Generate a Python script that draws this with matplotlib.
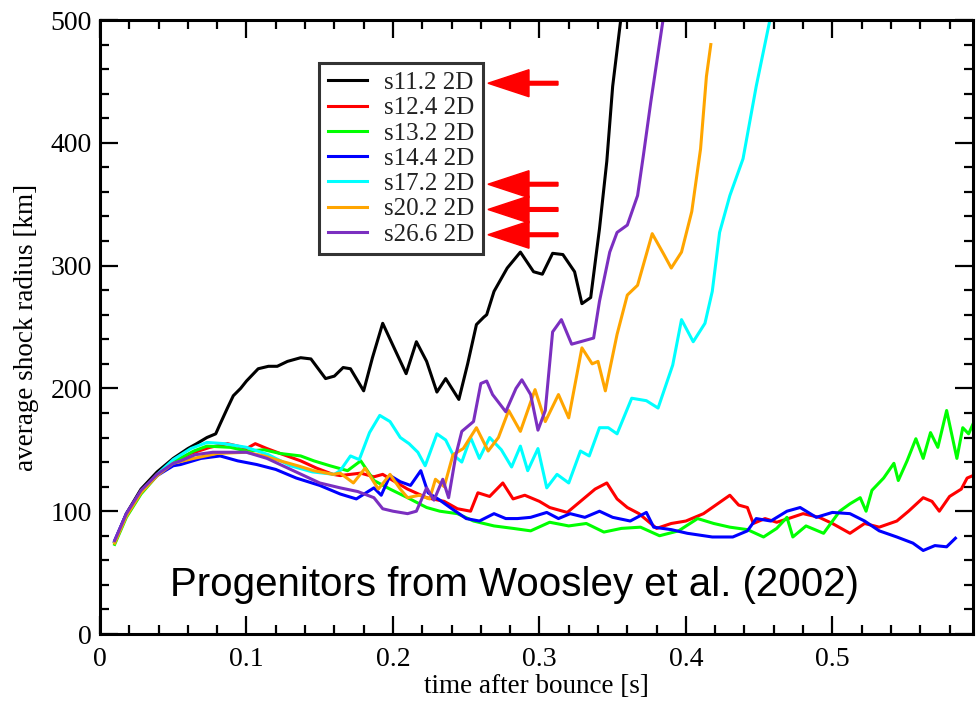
import numpy as np
import matplotlib
matplotlib.use('Agg')
import matplotlib.pyplot as plt
from matplotlib.ticker import MultipleLocator

# ---- data: time after bounce [s], average shock radius [km]
t_s112 = [0.010, 0.018, 0.028, 0.039, 0.050, 0.060, 0.066, 0.073, 0.079, 0.082, 0.087, 0.091,
          0.096, 0.100, 0.108, 0.115, 0.121, 0.128, 0.137, 0.144, 0.154, 0.160, 0.166, 0.171,
          0.180, 0.186, 0.193, 0.200, 0.209, 0.216, 0.223, 0.230, 0.236, 0.245, 0.251, 0.257,
          0.262, 0.264, 0.269, 0.278, 0.287, 0.296, 0.302, 0.309, 0.316, 0.324, 0.329, 0.335,
          0.341, 0.346, 0.350, 0.356]
r_s112 = [75, 98, 118, 132, 143, 151, 155, 160, 163, 171, 184, 194,
          200, 206, 216, 218, 218, 222, 225, 224, 208, 210, 217, 216,
          198, 225, 253, 235, 212, 238, 222, 197, 208, 191, 220, 252,
          258, 260, 279, 298, 311, 295, 293, 310, 309, 295, 269, 274,
          330, 385, 446, 505]

t_s124 = [0.010, 0.018, 0.028, 0.039, 0.050, 0.062, 0.075, 0.087, 0.094, 0.100, 0.106, 0.114,
          0.123, 0.137, 0.148, 0.159, 0.164, 0.178, 0.187, 0.193, 0.200, 0.210, 0.223, 0.235,
          0.244, 0.253, 0.258, 0.266, 0.275, 0.282, 0.290, 0.300, 0.307, 0.319, 0.328, 0.338,
          0.346, 0.353, 0.360, 0.368, 0.380, 0.390, 0.400, 0.412, 0.418, 0.430, 0.436, 0.442,
          0.446, 0.454, 0.462, 0.470, 0.480, 0.491, 0.500, 0.512, 0.522, 0.532, 0.544, 0.552,
          0.562, 0.568, 0.573, 0.580, 0.588, 0.592, 0.596]
r_s124 = [75, 97, 116, 130, 140, 147, 152, 155, 153, 151, 155, 151,
          147, 141, 135, 130, 129, 131, 128, 130, 125, 118, 111, 108,
          102, 100, 115, 112, 123, 110, 113, 108, 103, 99, 108, 118,
          123, 110, 103, 98, 86, 90, 92, 98, 103, 113, 105, 103,
          90, 94, 91, 94, 98, 95, 90, 82, 90, 87, 92, 100,
          111, 108, 100, 112, 118, 127, 129]

t_s132 = [0.010, 0.018, 0.028, 0.039, 0.050, 0.064, 0.073, 0.089, 0.100, 0.112, 0.123, 0.137,
          0.146, 0.157, 0.169, 0.178, 0.187, 0.198, 0.210, 0.223, 0.232, 0.244, 0.255, 0.269,
          0.282, 0.294, 0.307, 0.320, 0.332, 0.344, 0.356, 0.369, 0.382, 0.395, 0.408, 0.419,
          0.430, 0.442, 0.453, 0.462, 0.469, 0.473, 0.482, 0.494, 0.505, 0.512, 0.519, 0.523,
          0.527, 0.535, 0.542, 0.545, 0.551, 0.557, 0.562, 0.567, 0.572, 0.578, 0.585, 0.589,
          0.593, 0.596]
r_s132 = [73, 95, 114, 129, 140, 149, 153, 152, 149, 150, 147, 145,
          141, 137, 133, 141, 125, 118, 111, 103, 100, 98, 92, 88,
          86, 84, 91, 88, 90, 83, 86, 87, 80, 84, 94, 90,
          87, 85, 79, 86, 95, 79, 88, 82, 100, 106, 111, 100,
          117, 127, 139, 125, 141, 159, 143, 164, 152, 182, 143, 168,
          163, 171]

t_s144 = [0.010, 0.018, 0.028, 0.039, 0.050, 0.055, 0.069, 0.082, 0.094, 0.107, 0.120, 0.134,
          0.150, 0.164, 0.175, 0.187, 0.192, 0.198, 0.205, 0.212, 0.219, 0.224, 0.232, 0.239,
          0.250, 0.259, 0.269, 0.277, 0.285, 0.294, 0.305, 0.313, 0.321, 0.331, 0.341, 0.350,
          0.362, 0.373, 0.378, 0.390, 0.401, 0.418, 0.432, 0.442, 0.448, 0.458, 0.469, 0.478,
          0.489, 0.500, 0.512, 0.522, 0.532, 0.544, 0.555, 0.562, 0.570, 0.578, 0.584]
r_s144 = [76, 98, 116, 129, 137, 138, 143, 145, 141, 138, 134, 127,
          121, 114, 110, 119, 113, 129, 124, 121, 133, 115, 109, 103,
          94, 92, 98, 94, 94, 95, 99, 94, 98, 95, 100, 95,
          92, 99, 87, 85, 82, 79, 79, 84, 94, 92, 100, 103,
          95, 99, 98, 92, 84, 79, 74, 68, 72, 71, 78]

t_s172 = [0.010, 0.018, 0.028, 0.039, 0.050, 0.062, 0.073, 0.085, 0.100, 0.115, 0.130, 0.145,
          0.160, 0.164, 0.171, 0.177, 0.184, 0.191, 0.198, 0.205, 0.211, 0.217, 0.222, 0.230,
          0.236, 0.241, 0.247, 0.253, 0.259, 0.266, 0.274, 0.281, 0.287, 0.292, 0.299, 0.305,
          0.312, 0.320, 0.328, 0.334, 0.341, 0.347, 0.353, 0.363, 0.373, 0.381, 0.391, 0.397,
          0.405, 0.413, 0.418, 0.423, 0.430, 0.439, 0.448, 0.457, 0.460]
r_s172 = [75, 97, 116, 130, 142, 151, 156, 155, 152, 146, 137, 132,
          130, 133, 145, 142, 164, 178, 173, 160, 155, 148, 137, 163,
          158, 146, 140, 160, 143, 160, 150, 136, 153, 133, 151, 119,
          130, 123, 149, 145, 168, 168, 163, 192, 190, 184, 219, 256,
          238, 253, 279, 327, 357, 387, 446, 498, 520]

t_s202 = [0.010, 0.018, 0.028, 0.039, 0.050, 0.064, 0.080, 0.100, 0.112, 0.123, 0.135, 0.146,
          0.159, 0.164, 0.173, 0.181, 0.190, 0.198, 0.205, 0.210, 0.218, 0.225, 0.229, 0.235,
          0.241, 0.248, 0.257, 0.265, 0.272, 0.279, 0.287, 0.297, 0.304, 0.313, 0.320, 0.329,
          0.336, 0.340, 0.345, 0.353, 0.360, 0.367, 0.377, 0.385, 0.390, 0.397, 0.404, 0.410,
          0.414, 0.417]
r_s202 = [74, 96, 115, 129, 139, 143, 147, 148, 145, 141, 137, 133,
          130, 131, 123, 135, 118, 130, 118, 111, 113, 110, 126, 120,
          146, 151, 168, 149, 160, 182, 165, 199, 173, 195, 176, 233,
          220, 222, 198, 244, 276, 284, 326, 309, 298, 311, 344, 395,
          454, 480]

t_s266 = [0.010, 0.018, 0.028, 0.039, 0.050, 0.055, 0.065, 0.077, 0.090, 0.100, 0.114, 0.132,
          0.150, 0.164, 0.176, 0.187, 0.193, 0.200, 0.210, 0.216, 0.223, 0.228, 0.234, 0.238,
          0.243, 0.247, 0.255, 0.260, 0.264, 0.268, 0.277, 0.284, 0.288, 0.294, 0.299, 0.304,
          0.309, 0.315, 0.322, 0.328, 0.337, 0.341, 0.348, 0.353, 0.360, 0.367, 0.371, 0.376,
          0.380, 0.385]
r_s266 = [76, 98, 117, 130, 139, 141, 146, 148, 148, 148, 143, 133,
          123, 119, 116, 111, 102, 100, 98, 100, 119, 109, 126, 111,
          146, 165, 173, 204, 206, 195, 181, 200, 207, 195, 166, 182,
          246, 256, 236, 238, 241, 271, 311, 327, 333, 357, 390, 433,
          465, 505]

labels = ['s11.2 2D', 's12.4 2D', 's13.2 2D', 's14.4 2D', 's17.2 2D', 's20.2 2D', 's26.6 2D']
colors = ['black', '#ff0000', '#00ff00', '#0000ff', '#00ffff', '#ffa500', '#7b2fc0']
series = [(t_s112, r_s112), (t_s124, r_s124), (t_s132, r_s132), (t_s144, r_s144),
          (t_s172, r_s172), (t_s202, r_s202), (t_s266, r_s266)]
marked = ['s11.2 2D', 's17.2 2D', 's20.2 2D', 's26.6 2D']   # entries with red arrows

plt.rcParams['font.family'] = ['Liberation Serif', 'DejaVu Serif']
plt.rcParams['axes.linewidth'] = 2.2
plt.rcParams['xtick.major.width'] = 1.6
plt.rcParams['ytick.major.width'] = 1.6
plt.rcParams['xtick.minor.width'] = 1.6
plt.rcParams['ytick.minor.width'] = 1.6
plt.rcParams['xtick.major.size'] = 13
plt.rcParams['ytick.major.size'] = 13
plt.rcParams['xtick.minor.size'] = 6.5
plt.rcParams['ytick.minor.size'] = 6.5

fig = plt.figure(figsize=(9.8, 7.02), dpi=100)
ax = fig.add_axes([100/980, 1-634/702, 873/980, 614/702])

for (t, r), c, lab in zip(series, colors, labels):
    ax.plot(t, r, color=c, lw=2.2, label=lab)

ax.set_xlim(0, 0.596)
ax.set_ylim(0, 500)
ax.set_xticks([0, 0.1, 0.2, 0.3, 0.4, 0.5])
ax.set_xticklabels(['0', '0.1', '0.2', '0.3', '0.4', '0.5'])
ax.xaxis.set_minor_locator(MultipleLocator(0.02))
ax.yaxis.set_major_locator(MultipleLocator(100))
ax.yaxis.set_minor_locator(MultipleLocator(20))
ax.tick_params(which='both', direction='in', top=True, right=True, labelsize=20)
ax.tick_params(axis='x', pad=9)
ax.tick_params(axis='y', pad=6)

ax.set_xlabel('time after bounce [s]', fontsize=19.5, labelpad=2)
ax.set_ylabel('average shock radius [km]', fontsize=19.5, labelpad=8)

leg = ax.legend(loc='upper left', bbox_to_anchor=(0.251, 0.930), borderaxespad=0,
                fontsize=18, frameon=True, fancybox=False, handlelength=1.55,
                handletextpad=0.7, labelspacing=0.11, borderpad=0.35)
leg.get_frame().set_edgecolor('black')
leg.get_frame().set_linewidth(2.2)
for txt in leg.get_texts():
    txt.set_color('#222222')

# red arrows pointing at the marked legend entries
fig.canvas.draw()
inv = ax.transAxes.inverted()
for txt in leg.get_texts():
    if txt.get_text() in marked:
        bb = txt.get_window_extent()
        yc = inv.transform((0, (bb.y0 + bb.y1) / 2))[1]
        ax.arrow(0.5246, yc, -0.0802, 0, transform=ax.transAxes, width=0.0060,
                 head_width=0.044, head_length=0.047, length_includes_head=True,
                 color='#ff0000', clip_on=False, zorder=5)

fig.text(0.525, 1-585/702, 'Progenitors from Woosley et al. (2002)', ha='center', va='center',
         fontsize=29, family=['Liberation Sans', 'DejaVu Sans'])

plt.savefig('out.png', dpi=100)
